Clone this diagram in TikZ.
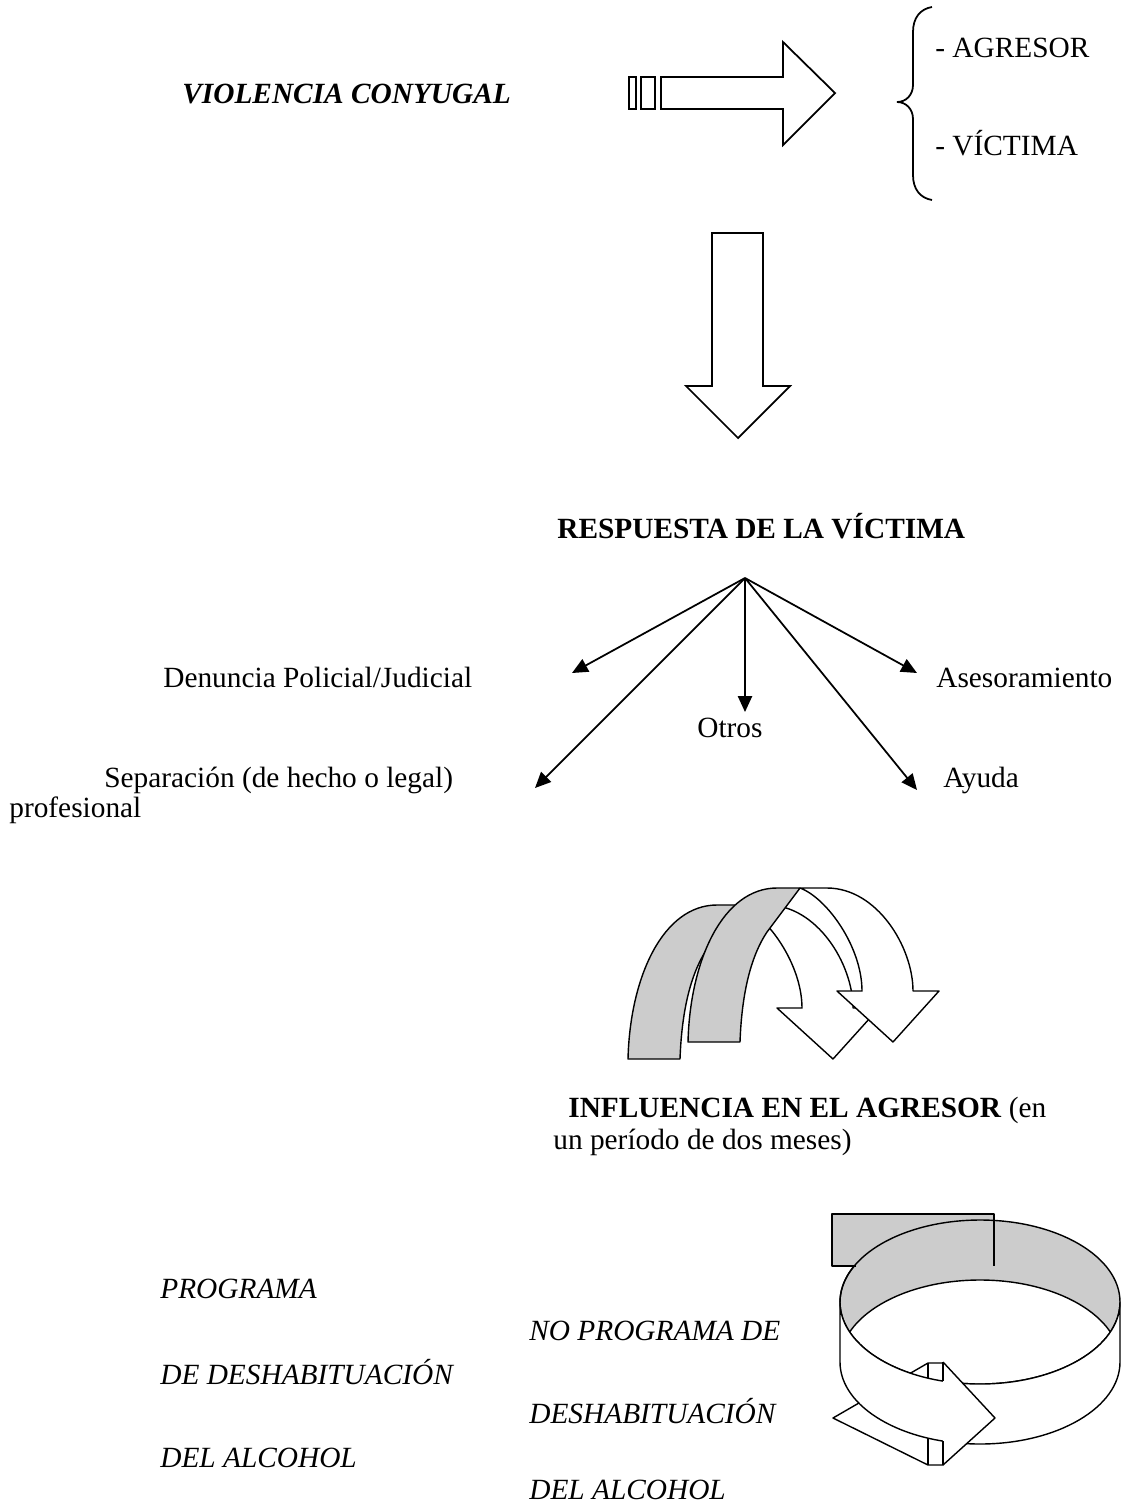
\documentclass[tikz,border=0pt]{standalone}
\usepackage{fontspec}
\setmainfont{Liberation Serif}
\usetikzlibrary{arrows.meta}
\definecolor{bandgrey}{HTML}{CCCCCC}

\begin{document}
\begin{tikzpicture}[x=0.02cm, y=0.02cm,
  every node/.style={font=\fontsize{16.7}{19}\selectfont, inner sep=0pt},
  lbl/.style={anchor=base west},
  blockarrow/.style={draw, fill=white, line width=1pt},
  band/.style={draw, line width=0.8pt, line join=round},
  fanarrow/.style={line width=1pt, -{Triangle[length=9pt, width=8pt]}}]

\useasboundingbox (0,0) rectangle (1126,-1505);

% top row
\node[lbl] (violencia) at (182,-103) {\textbf{\textit{VIOLENCIA CONYUGAL}}};
\draw[blockarrow] (629,-77) rectangle (636,-109);
\draw[blockarrow] (641,-77) rectangle (655,-109);
\draw[blockarrow] (661,-77) -- (783,-77) -- (783,-42) -- (835,-93) -- (783,-145) -- (783,-109) -- (661,-109) -- cycle;
\draw[line width=1pt] (932,-7) .. controls (920,-9) and (913,-18) .. (913,-32) -- (913,-85)
  .. controls (913,-95) and (906,-102) .. (897,-102) .. controls (906,-102) and (913,-109) .. (913,-119)
  -- (913,-175) .. controls (913,-189) and (920,-198) .. (932,-200);
\node[lbl] (agresor) at (935,-57) {- AGRESOR};
\node[lbl] (victima) at (935,-155) {- VÍCTIMA};

% down arrow
\draw[blockarrow] (712,-233) -- (763,-233) -- (763,-386) -- (790,-386) -- (738,-438) -- (686,-386) -- (712,-386) -- cycle;

% respuesta
\node[lbl] (respuesta) at (557,-538) {\textbf{RESPUESTA DE LA VÍCTIMA}};
\coordinate (fan) at (745,-578);
\coordinate (fdenuncia) at (572,-673);
\coordinate (fseparacion) at (535,-788);
\coordinate (fotros) at (745,-712);
\coordinate (fasesor) at (917,-673);
\coordinate (fayuda) at (917,-790);
\foreach \e in {fdenuncia, fseparacion, fotros, fasesor, fayuda}
  \draw[fanarrow] (fan) -- (\e);

\node[lbl] (denuncia) at (163,-687) {Denuncia Policial/Judicial};
\node[lbl] (asesor) at (936,-687) {Asesoramiento};
\node[lbl] (otros) at (697,-737) {Otros};
\node[lbl] (separacion) at (104,-787) {Separación (de hecho o legal)};
\node[lbl] (ayuda) at (943,-787) {Ayuda};
\node[lbl] (profesional) at (9,-817) {profesional};

% curved arrows
\foreach \sx/\sy in {628/-1059, 688/-1042} {
  \begin{scope}[shift={(\sx,\sy)}]
    \draw[band, fill=bandgrey] (0,0) .. controls (2,82) and (35,154) .. (89,154) -- (112,154) -- (79,110)
      .. controls (65,89) and (54,55) .. (52,0) -- cycle;
    \draw[band, fill=white] (112,154) -- (139,154) .. controls (189,154) and (225,95) .. (225,51)
      -- (251,51) -- (205,0) -- (149,51) -- (174,51) .. controls (174,95) and (139,144) .. (112,154) -- cycle;
  \end{scope}
}

\node[lbl] (influencia) at (568,-1117) {\textbf{INFLUENCIA EN EL AGRESOR} (en};
\node[lbl] (periodo) at (553,-1149) {un período de dos meses)};

% ring
\fill[white] (980,-1362) ellipse [x radius=140, y radius=82];
\fill[bandgrey] (980,-1302) ellipse [x radius=140, y radius=82];
\begin{scope}
  \clip (980,-1302) ellipse [x radius=140, y radius=82];
  \draw[band, fill=white] (980,-1362) ellipse [x radius=140, y radius=82];
\end{scope}
\draw[band] (980,-1302) ellipse [x radius=140, y radius=82];
\fill[bandgrey] (832,-1214) rectangle (994,-1266);
\draw[band] (856,-1266) -- (832,-1266) -- (832,-1214) -- (994,-1214) -- (994,-1266);
\draw[band] (840,-1302) arc [start angle=180, end angle=84, x radius=140, y radius=82];
\draw[band, fill=white] (833,-1418) -- (928,-1363) -- (943,-1363) -- (943,-1465) -- (928,-1465) -- cycle;
\draw[band] (928,-1363) -- (928,-1465);
\draw[band, fill=white] (840,-1302) arc [start angle=180, end angle=360, x radius=140, y radius=82]
  -- (1120,-1362) arc [start angle=0, end angle=-180, x radius=140, y radius=82] -- cycle;
\fill[white] (943,-1362) -- (995,-1418) -- (943,-1465) -- cycle;
\draw[band] (943,-1362) -- (995,-1418) -- (943,-1465);
\draw[band] (943,-1362) -- (943,-1381) (943,-1441) -- (943,-1465);

% bottom texts
\node[lbl] (prog) at (160,-1298) {\textit{PROGRAMA}};
\node[lbl] (deshab) at (160,-1384) {\textit{DE DESHABITUACIÓN}};
\node[lbl] (alcohol) at (160,-1467) {\textit{DEL ALCOHOL}};
\node[lbl] (noprog) at (529,-1340) {\textit{NO PROGRAMA DE}};
\node[lbl] (nodeshab) at (529,-1423) {\textit{DESHABITUACIÓN}};
\node[lbl] (noalcohol) at (529,-1499) {\textit{DEL ALCOHOL}};
\end{tikzpicture}
\end{document}
